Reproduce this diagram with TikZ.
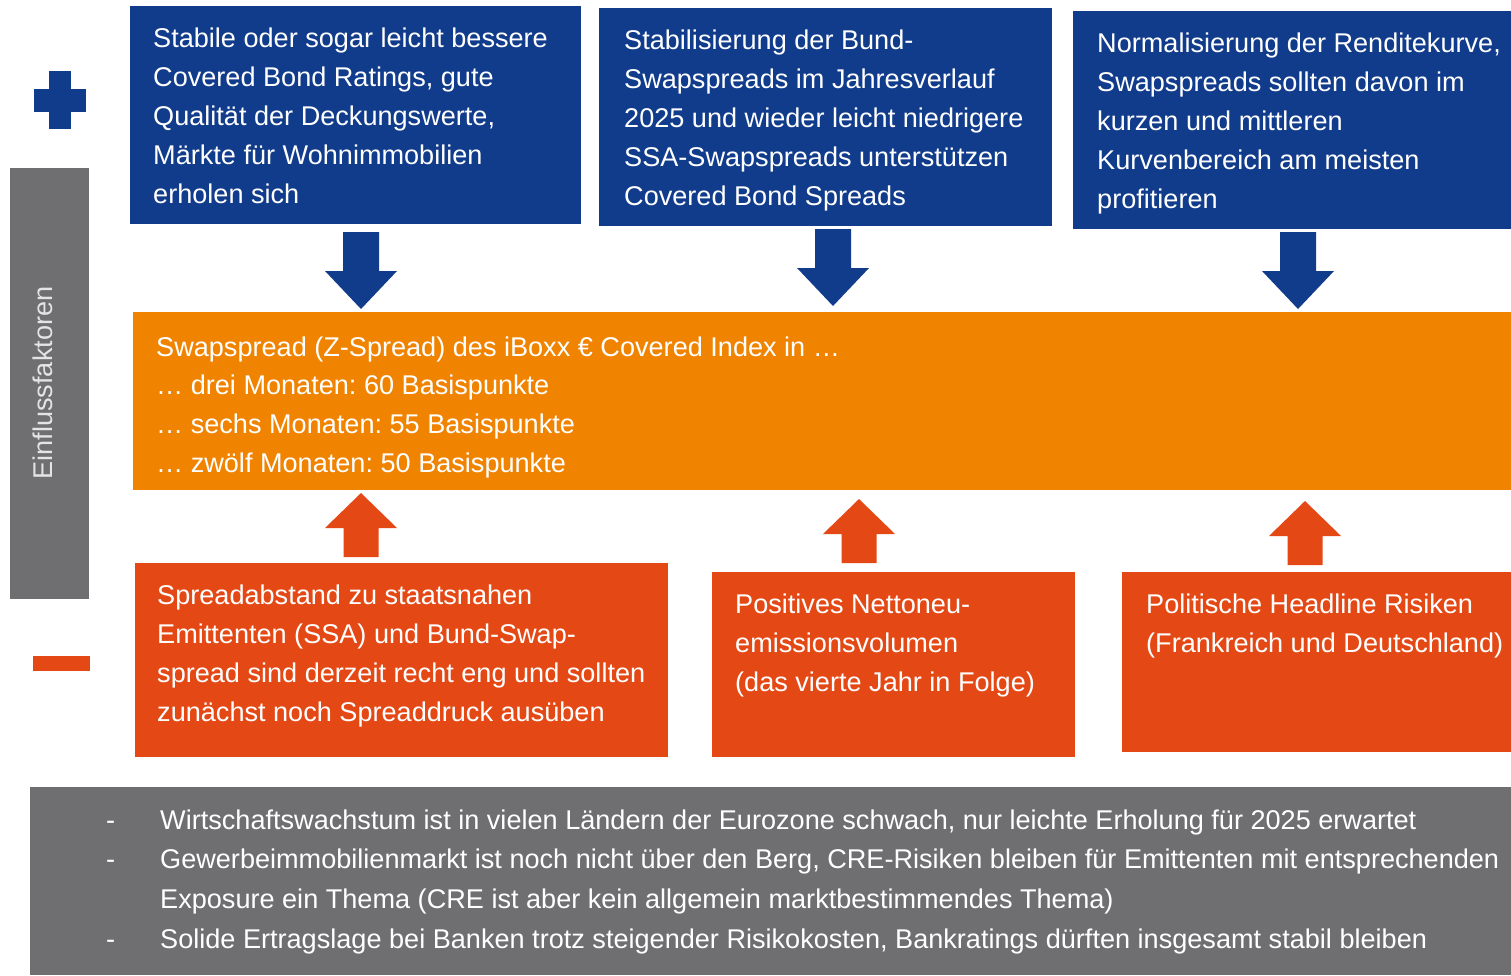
\documentclass[tikz,border=0pt]{standalone}
\usepackage{fontspec}
\setmainfont{Liberation Sans}
\frenchspacing
\definecolor{cblue}{RGB}{17,60,139}
\definecolor{corange}{RGB}{240,131,0}
\definecolor{cred}{RGB}{228,73,21}
\definecolor{cgray}{RGB}{111,111,114}
\definecolor{clight}{RGB}{228,228,228}
\newcommand{\txtfont}{\fontsize{27.1}{39.2}\selectfont}
\tikzset{
  panel/.style={inner sep=0pt, outer sep=0pt, draw=none, anchor=north west},
  bluebox/.style={panel, fill=cblue},
  orangebox/.style={panel, fill=corange},
  redbox/.style={panel, fill=cred},
  graybox/.style={panel, fill=cgray},
  boxtext/.style={inner sep=0pt, anchor=base west, text=white, font=\txtfont},
  downarrow/.pic={\fill[cblue] (-18,0) -- (18,0) -- (18,39) -- (36,39) -- (0,77) -- (-36,39) -- (-18,39) -- cycle;},
  uparrow/.pic={\fill[cred] (-17.5,64) -- (17.5,64) -- (17.5,35) -- (36,35) -- (0,0) -- (-36,35) -- (-17.5,35) -- cycle;}
}
\begin{document}
\begin{tikzpicture}[x=1pt,y=-1pt]
\useasboundingbox (0,0) rectangle (1511,975);
\fill[white] (0,0) rectangle (1511,975);

% plus sign
\fill[cblue] (49,71) rectangle (71,129);
\fill[cblue] (34,89) rectangle (86,112);
% minus sign
\fill[cred] (33,656) rectangle (90,671);

% side bar
\node[graybox, minimum width=79, minimum height=431] (side) at (10,168) {};
\node[inner sep=0pt, anchor=base, rotate=90, text=clight, font=\txtfont] (sidetxt) at (52,383) {Einflussfaktoren};

% blue boxes
\node[bluebox, minimum width=451, minimum height=218] (b1) at (130,6) {};
\node[bluebox, minimum width=453, minimum height=218] (b2) at (599,8) {};
\node[bluebox, minimum width=438, minimum height=218] (b3) at (1073,11) {};
\node[boxtext] (t1) at (153,47) {\parbox[t]{420pt}{\raggedright Stabile oder sogar leicht bessere\\ Covered Bond Ratings, gute\\ Qualität der Deckungswerte,\\ Märkte für Wohnimmobilien\\ erholen sich}};
\node[boxtext] (t2) at (624,49) {\parbox[t]{420pt}{\raggedright Stabilisierung der Bund-\\ Swapspreads im Jahresverlauf\\ 2025 und wieder leicht niedrigere\\ SSA-Swapspreads unterstützen\\ Covered Bond Spreads}};
\node[boxtext] (t3) at (1097,52) {\parbox[t]{420pt}{\raggedright Normalisierung der Renditekurve,\\ Swapspreads sollten davon im\\ kurzen und mittleren\\ Kurvenbereich am meisten\\ profitieren}};

% down arrows
\pic at (361,232) {downarrow};
\pic at (833,229) {downarrow};
\pic at (1298,232) {downarrow};

% orange box
\node[orangebox, minimum width=1378, minimum height=178] (o) at (133,312) {};
\node[boxtext] (ot) at (156,356) {\parbox[t]{1000pt}{\fontsize{27.1}{38.7}\selectfont\raggedright Swapspread (Z-Spread) des iBoxx € Covered Index in …\\ … drei Monaten: 60 Basispunkte\\ … sechs Monaten: 55 Basispunkte\\ … zwölf Monaten: 50 Basispunkte}};

% up arrows
\pic at (361,493) {uparrow};
\pic at (859,499) {uparrow};
\pic at (1305,501) {uparrow};

% red boxes
\node[redbox, minimum width=533, minimum height=194] (r1) at (135,563) {};
\node[redbox, minimum width=363, minimum height=185] (r2) at (712,572) {};
\node[redbox, minimum width=389, minimum height=180] (r3) at (1122,572) {};
\node[boxtext] (rt1) at (157,604) {\parbox[t]{520pt}{\raggedright Spreadabstand zu staatsnahen\\ Emittenten (SSA) und Bund-Swap-\\ spread sind derzeit recht eng und sollten\\ zunächst noch Spreaddruck ausüben}};
\node[boxtext] (rt2) at (735,613) {\parbox[t]{400pt}{\raggedright Positives Nettoneu-\\ emissionsvolumen\\ (das vierte Jahr in Folge)}};
\node[boxtext] (rt3) at (1146,613) {\parbox[t]{400pt}{\raggedright Politische Headline Risiken\\ (Frankreich und Deutschland)}};

% bottom box
\node[graybox, minimum width=1481, minimum height=188] (g) at (30,787) {};
\node[boxtext] (gd) at (106,829) {\parbox[t]{30pt}{\fontsize{27.1}{39.7}\selectfont -\\ -\\ \mbox{}\\ -}};
\node[boxtext] (gt) at (160,829) {\parbox[t]{1400pt}{\fontsize{27.1}{39.7}\selectfont\raggedright Wirtschaftswachstum ist in vielen Ländern der Eurozone schwach, nur leichte Erholung für 2025 erwartet\\ Gewerbeimmobilienmarkt ist noch nicht über den Berg, CRE-Risiken bleiben für Emittenten mit entsprechenden\\ Exposure ein Thema (CRE ist aber kein allgemein marktbestimmendes Thema)\\ Solide Ertragslage bei Banken trotz steigender Risikokosten, Bankratings dürften insgesamt stabil bleiben}};
\end{tikzpicture}
\end{document}
